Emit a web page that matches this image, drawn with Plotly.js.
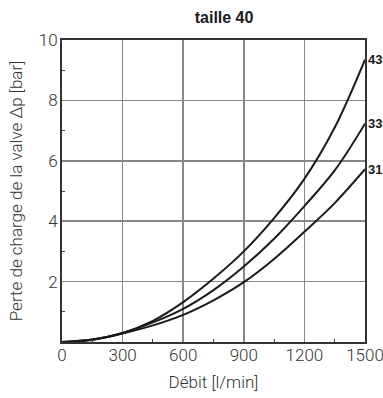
<!DOCTYPE html>
<html>
<head>
<meta charset="utf-8">
<script src="https://cdn.plot.ly/plotly-3.0.1.min.js"></script>
<style>html,body{margin:0;padding:0;background:#fff;}#chart{width:383px;height:398px;}</style>
</head>
<body>
<div id="chart"></div>
<script>
const flow = [0, 150, 300, 450, 600, 750, 900, 1050, 1200, 1350, 1500];
const size43 = [0, 0.08, 0.30, 0.70, 1.32, 2.10, 3.00, 4.10, 5.40, 7.10, 9.35];
const size33 = [0, 0.08, 0.30, 0.65, 1.10, 1.72, 2.50, 3.42, 4.50, 5.68, 7.23];
const size31 = [0, 0.07, 0.28, 0.55, 0.90, 1.38, 1.98, 2.75, 3.65, 4.60, 5.72];
const seriesNames = ["43", "33", "31"];
const seriesValues = [size43, size33, size31];
const xTicks = [0, 300, 600, 900, 1200, 1500];
const xTickLabels = ["0", "300", "600", "900", "1200", "1500"];
const yTicks = [2, 4, 6, 8, 10];
const yTickLabels = ["2", "4", "6", "8", "10"];

const traces = seriesValues.map((v, i) => ({
  x: flow, y: v, type: 'scatter', mode: 'lines', name: seriesNames[i],
  line: {color: '#1a1a1a', width: 2, shape: 'spline', smoothing: 1},
  hoverinfo: 'skip', showlegend: false, cliponaxis: false
}));

const annotations = seriesValues.map((v, i) => ({
  x: flow[flow.length - 1], y: v[v.length - 1], xref: 'x', yref: 'y',
  text: '<b>' + seriesNames[i] + '</b>', showarrow: false,
  xanchor: 'left', yanchor: 'middle', xshift: 1,
  font: {family: 'Liberation Sans, Arial', size: 13, color: '#1a1a1a'}
}));

const tickFont = {family: 'Roboto', weight: 300, size: 17, color: '#333'};
const layout = {
  width: 383, height: 398,
  margin: {l: 62, r: 18, t: 40, b: 56},
  paper_bgcolor: '#fff', plot_bgcolor: '#fff',
  title: {text: '<b>taille 40</b>', x: 0.585, xanchor: 'center', y: 0.97, yanchor: 'top',
          font: {family: 'Liberation Sans, Arial', size: 16, color: '#1a1a1a'}},
  xaxis: {
    range: [0, 1500], tickvals: xTicks, ticktext: xTickLabels, tickfont: tickFont,
    ticklabeloverflow: 'allow', ticklabelstandoff: -3,
    showgrid: true, gridcolor: '#888', gridwidth: 1.5,
    showline: true, linecolor: '#333', linewidth: 2, mirror: true,
    ticks: '', ticklen: 0, zeroline: false,
    minor: {tickvals: [150, 450, 750, 1050, 1350], ticks: 'inside', ticklen: 3, tickcolor: '#444', showgrid: false},
    title: {text: 'Débit [l/min]', standoff: 12, font: {family: 'Roboto', weight: 300, size: 17, color: '#333'}}
  },
  yaxis: {
    range: [0, 10], tickvals: yTicks, ticktext: yTickLabels, tickfont: tickFont,
    ticklabeloverflow: 'allow', ticklabelstandoff: -1,
    showgrid: true, gridcolor: '#888', gridwidth: 1.5,
    showline: true, linecolor: '#333', linewidth: 2, mirror: true,
    ticks: '', ticklen: 0, zeroline: false,
    minor: {tickvals: [1, 3, 5, 7, 9], ticks: 'inside', ticklen: 3, tickcolor: '#444', showgrid: false},
    title: {text: 'Perte de charge de la valve Δp [bar]', standoff: 12, font: {family: 'Roboto', weight: 300, size: 17, color: '#333'}}
  },
  annotations: annotations
};
Plotly.newPlot('chart', traces, layout, {displayModeBar: false, staticPlot: true});
</script>
</body>
</html>
